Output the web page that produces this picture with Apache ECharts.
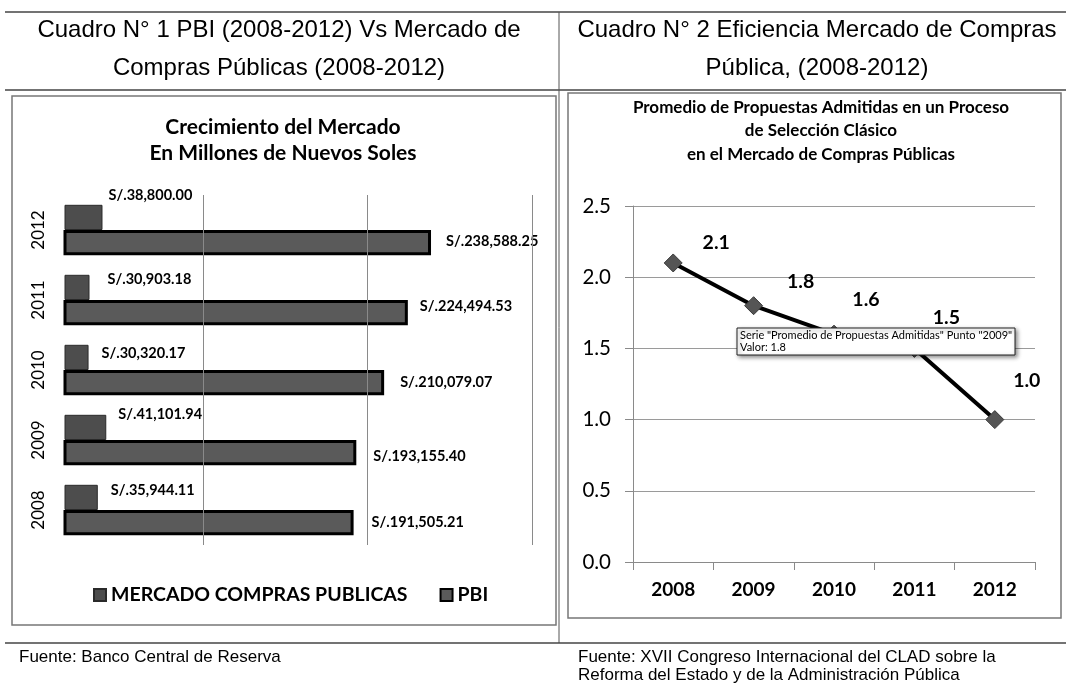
<!DOCTYPE html>
<html><head><meta charset="utf-8">
<script src="https://cdn.jsdelivr.net/npm/echarts@6/dist/echarts.min.js"></script>
<style>html,body{margin:0;padding:0;background:#fff}#c{width:1066px;height:683px}</style>
</head><body><div id="c"></div>
<script>
// ---- data ----
const years = ['2008', '2009', '2010', '2011', '2012'];
const mercado = [35944.11, 41101.94, 30320.17, 30903.18, 38800.00];
const pbi = [191505.21, 193155.40, 210079.07, 224494.53, 238588.25];
const promedio = [2.1, 1.8, 1.6, 1.5, 1.0];
const barGridValues = [100000, 200000, 300000];
const seriesNames = ['MERCADO COMPRAS PUBLICAS', 'PBI'];
const lineSeriesName = 'Promedio de Propuestas Admitidas';

// ---- label nudges (styling only) ----
const mercadoLabelOffset = [[13, -7], [12, -13], [13, -4], [18, -8], [6, -22]];
const pbiLabelOffset = [[18, 0], [17, 4], [16, 0], [12, -6], [15, -1]];
const lineLabelOffset = [[43, -20], [47, -24], [32, -34], [32, -31], [32, -39]];

const CAL = 'Lato, "Open Sans", sans-serif';
const ARIAL = '"Liberation Sans", Arial, sans-serif';

const money = v => 'S/.' + v.toLocaleString('en-US', {minimumFractionDigits: 2, maximumFractionDigits: 2});

const chart = echarts.init(document.getElementById('c'), null, {renderer: 'canvas'});

function line(x1, y1, x2, y2, color, w) {
  return {type: 'line', shape: {x1, y1, x2, y2}, style: {stroke: color, lineWidth: w}, silent: true};
}
function txt(x, y, text, font, align, sx) {
  return {type: 'text', x, y, scaleX: sx || 1, style: {text, font, fill: '#000', textAlign: align || 'center', textVerticalAlign: 'middle'}, silent: true};
}

const option = {
  animation: false,
  backgroundColor: '#fff',
  legend: {
    data: seriesNames,
    left: 88, top: 580,
    itemWidth: 12, itemHeight: 12, itemGap: 32,
    textStyle: {fontFamily: CAL, fontWeight: 'bold', fontSize: 19.5, color: '#000'},
    icon: 'rect'
  },
  grid: [
    {left: 65, right: 534, top: 195, bottom: 138},
    {left: 633, right: 31, top: 206, bottom: 121}
  ],
  xAxis: [
    {type: 'value', gridIndex: 0, min: 16000, max: 300000,
      axisLine: {show: false}, axisTick: {show: false}, axisLabel: {show: false}, splitLine: {show: false}},
    {type: 'category', gridIndex: 1, data: years, boundaryGap: true,
      axisLine: {lineStyle: {color: '#8a8a8a', width: 1}},
      axisTick: {show: true, length: 8, lineStyle: {color: '#8a8a8a'}},
      axisLabel: {fontFamily: CAL, fontWeight: 'bold', fontSize: 19, color: '#000', margin: 18}}
  ],
  yAxis: [
    {type: 'category', gridIndex: 0, data: years,
      axisLine: {show: false}, axisTick: {show: false},
      axisLabel: {rotate: 90, fontFamily: CAL, fontSize: 17, color: '#000', margin: 18}},
    {type: 'value', gridIndex: 1, min: 0, max: 2.5, interval: 0.5,
      axisLine: {show: true, lineStyle: {color: '#8a8a8a', width: 1}},
      axisTick: {show: true, length: 8, lineStyle: {color: '#8a8a8a'}},
      splitLine: {lineStyle: {color: '#9a9a9a', width: 1}},
      axisLabel: {fontFamily: CAL, fontSize: 20.5, color: '#000', margin: 22, formatter: v => v.toFixed(1)}}
  ],
  series: [
    {
      name: seriesNames[0], type: 'bar', xAxisIndex: 0, yAxisIndex: 0,
      barGap: '0%', barCategoryGap: '28%',
      itemStyle: {color: '#4d4d4d', borderColor: '#2a2a2a', borderWidth: 1},
      data: mercado.map((v, i) => ({value: v, label: {offset: mercadoLabelOffset[i]}})),
      label: {show: true, position: 'right', distance: 0, formatter: p => money(p.value),
        fontFamily: CAL, fontWeight: 'bold', fontSize: 14.5, color: '#000'}
    },
    {
      name: seriesNames[1], type: 'bar', xAxisIndex: 0, yAxisIndex: 0,
      barGap: '0%', barCategoryGap: '28%',
      itemStyle: {color: '#5a5a5a', borderColor: '#000', borderWidth: 3},
      data: pbi.map((v, i) => ({value: v, label: {offset: pbiLabelOffset[i]}})),
      label: {show: true, position: 'right', distance: 0, formatter: p => money(p.value),
        fontFamily: CAL, fontWeight: 'bold', fontSize: 14.5, color: '#000'},
      markLine: {
        silent: true, symbol: ['none', 'none'], label: {show: false},
        lineStyle: {color: '#8a8a8a', width: 1, type: 'solid'},
        data: barGridValues.map(v => ({xAxis: v}))
      },
      z: 3
    },
    {
      name: lineSeriesName, type: 'line', xAxisIndex: 1, yAxisIndex: 1,
      data: promedio.map((v, i) => ({value: v, label: {offset: lineLabelOffset[i]}})),
      symbol: 'diamond', symbolSize: 18,
      lineStyle: {color: '#000', width: 4},
      itemStyle: {color: '#555555', borderColor: '#3a3a3a', borderWidth: 1},
      label: {show: true, position: 'inside', formatter: p => p.value.toFixed(1),
        fontFamily: CAL, fontWeight: 'bold', fontSize: 19.5, color: '#000'},
      z: 4
    }
  ],
  graphic: [
    line(5, 12, 1066, 12, '#444', 1.5),
    line(5, 90, 1066, 90, '#444', 1.5),
    line(559, 12, 559, 643, '#555', 1),
    line(5, 643, 1066, 643, '#444', 1.5),
    {type: 'rect', shape: {x: 12, y: 96, width: 544, height: 529}, style: {fill: 'none', stroke: '#777', lineWidth: 1.5}, silent: true},
    {type: 'rect', shape: {x: 568, y: 93, width: 493, height: 525}, style: {fill: 'none', stroke: '#777', lineWidth: 1.5}, silent: true},
    txt(279, 30, 'Cuadro N° 1 PBI (2008-2012) Vs Mercado de', '24px ' + ARIAL),
    txt(279, 68, 'Compras Públicas (2008-2012)', '24px ' + ARIAL),
    txt(817, 30, 'Cuadro N° 2 Eficiencia Mercado de Compras', '24px ' + ARIAL),
    txt(817, 68, 'Pública, (2008-2012)', '24px ' + ARIAL),
    txt(283, 127, 'Crecimiento del Mercado', 'bold 21px ' + CAL),
    txt(283, 153, 'En Millones de Nuevos Soles', 'bold 21px ' + CAL),
    txt(821, 108, 'Promedio de Propuestas Admitidas en un Proceso', 'bold 17px ' + CAL),
    txt(821, 131, 'de Selección Clásico', 'bold 17px ' + CAL),
    txt(821, 155, 'en el Mercado de Compras Públicas', 'bold 17px ' + CAL),
    txt(19, 657, 'Fuente: Banco Central de Reserva', '17px ' + ARIAL, 'left'),
    txt(578, 657, 'Fuente: XVII Congreso Internacional del CLAD sobre la', '17px ' + ARIAL, 'left'),
    txt(578, 675, 'Reforma del Estado y de la Administración Pública', '17px ' + ARIAL, 'left'),
    {
      type: 'group', x: 737, y: 328, silent: true,
      children: [
        {type: 'rect', z: 100, shape: {x: 0, y: 0, width: 278, height: 27},
          style: {fill: '#fff', stroke: '#222', lineWidth: 1, shadowBlur: 4, shadowOffsetX: 2, shadowOffsetY: 2, shadowColor: 'rgba(0,0,0,0.45)'}},
        {type: 'text', z: 101, x: 3, y: 7.5, style: {text: 'Serie "' + lineSeriesName + '" Punto "2009"', font: '11px ' + CAL, fill: '#000', textVerticalAlign: 'middle'}},
        {type: 'text', z: 101, x: 3, y: 19.5, style: {text: 'Valor: ' + promedio[1].toFixed(1), font: '11px ' + CAL, fill: '#000', textVerticalAlign: 'middle'}}
      ]
    }
  ]
};
chart.setOption(option);
</script>
</body></html>
